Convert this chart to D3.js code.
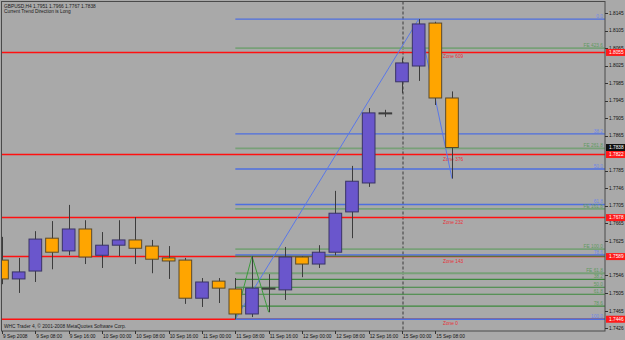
<!DOCTYPE html>
<html><head><meta charset="utf-8">
<script src="https://cdn.jsdelivr.net/npm/d3@7"></script>
<style>
body{margin:0;background:#a9a9a9;}
svg{display:block;}
text{font-family:"Liberation Sans",Arial,sans-serif;}
</style>
</head><body>
<svg id="chart" width="625" height="340"></svg>
<script>
// ---------- data ----------
const headerText = "GBPUSD,H4  1.7951 1.7966 1.7767 1.7838";
const trendText = "Current Trend Direction is Long";
const copyrightText = "WHC Trader 4, \u00A9 2001-2008 MetaQuotes Software Corp.";

const barIndex = [0,1,2,3,4,5,6,7,8,9,10,11,12,13,14,15,16,17,18,19,20,21,22,23,24,25,26,27];
const opens  = [1.7581,1.7538,1.7556,1.7631,1.7602,1.7652,1.7592,1.7615,1.7627,1.7613,1.7586,1.7581,1.7494,1.7533,1.7515,1.7458,1.7517,1.7513,1.7588,1.7572,1.7599,1.7691,1.7757,1.7917,1.7988,1.8024,1.8122,1.7951];
const highs  = [1.7634,1.7586,1.7647,1.7670,1.7707,1.7672,1.7645,1.7672,1.7679,1.7627,1.7613,1.7586,1.7540,1.7540,1.7540,1.7590,1.7549,1.7611,1.7590,1.7615,1.7739,1.7796,1.7928,1.7924,1.8042,1.8131,1.8125,1.7966];
const lows   = [1.7526,1.7506,1.7531,1.7560,1.7592,1.7572,1.7563,1.7590,1.7572,1.7551,1.7538,1.7481,1.7474,1.7483,1.7446,1.7451,1.7462,1.7490,1.7542,1.7563,1.7592,1.7631,1.7748,1.7908,1.7962,1.7990,1.7935,1.7767];
const closes = [1.7538,1.7554,1.7629,1.7599,1.7652,1.7588,1.7615,1.7627,1.7608,1.7583,1.7579,1.7494,1.7531,1.7517,1.7458,1.7517,1.7516,1.7588,1.7572,1.7599,1.7688,1.7761,1.7917,1.7916,1.8031,1.8120,1.7951,1.7838];

const timeLabels = ["9 Sep 2008","9 Sep 08:00","9 Sep 16:00","10 Sep 00:00","10 Sep 08:00","10 Sep 16:00","11 Sep 00:00","11 Sep 08:00","11 Sep 16:00","12 Sep 00:00","12 Sep 08:00","12 Sep 16:00","15 Sep 00:00","15 Sep 08:00"];
const timeLabelBars = [0,2,4,6,8,10,12,14,16,18,20,22,24,26];
const separatorBar = 24;

// visible price scale labels (those hidden under the marker boxes are omitted)
const priceTicks = [1.8145,1.8105,1.8065,1.8025,1.7985,1.7945,1.7905,1.7865,1.7785,1.7746,1.7705,1.7665,1.7625,1.7546,1.7505,1.7465,1.7426];

const zonePrices = [1.8055,1.7822,1.7678,1.7589,1.7446];
const zoneLabels = ["Zone 609","Zone 376","Zone 232","Zone 143","Zone 0"];

const fibBlueNames  = ["0.0","38.2","50.0","61.8","78.6","100.0"];
const fibBluePrices = [1.8131,1.7869,1.7789,1.7708,1.7593,1.7446];

const feNames  = ["FE 423.6","FE 261.8","FE 161.8","FE 100.0","FE 61.8"];
const fePrices = [1.8065,1.7836,1.7698,1.7606,1.7551];

const fibGreenNames  = ["0.0","38.2","50.0","61.8","78.6","100.0"];
const fibGreenPrices = [1.7590,1.7537,1.7519,1.7503,1.7476,1.7446];

const fibStartBar = 14;
const trendUp   = [[14,1.7446],[25,1.8131]];
const trendDown = [[25,1.8131],[27,1.7767]];
const expansionPts = [[14,1.7446],[15,1.7590],[16,1.7462]];

const lastPrice = 1.7838;

(function(){
const W = 625, H = 340;
const pL = 1.5, pR = 605, pT = 1.5, pB = 331;
const svg = d3.select("#chart");
const x = d3.scaleLinear().domain([0,36]).range([2,602]);
const y = d3.scaleLinear().domain([1.7426,1.8145]).range([328,13]);
const fs = 4.8;

svg.append("rect").attr("width",W).attr("height",H).attr("fill","#a9a9a9");

svg.append("clipPath").attr("id","pc").append("rect")
  .attr("x",pL).attr("y",pT).attr("width",pR-pL).attr("height",pB-pT);
const plot = svg.append("g").attr("clip-path","url(#pc)");

plot.append("line").attr("x1",x(separatorBar)+1).attr("x2",x(separatorBar)+1)
  .attr("y1",pT).attr("y2",pB).attr("stroke","#3a3a3a").attr("stroke-width",1)
  .attr("stroke-dasharray","3,2");

plot.selectAll(".zone").data(zonePrices).join("line")
  .attr("x1",pL).attr("x2",pR).attr("y1",d=>y(d)).attr("y2",d=>y(d))
  .attr("stroke","#ff1010").attr("stroke-width",1.5);

const fibX0 = x(fibStartBar);
plot.selectAll(".gr").data(fibGreenPrices).join("line")
  .attr("x1",fibX0).attr("x2",pR).attr("y1",d=>y(d)).attr("y2",d=>y(d))
  .attr("stroke","#3d8a3d").attr("stroke-width",1.2);
plot.selectAll(".fe").data(fePrices).join("line")
  .attr("x1",fibX0).attr("x2",pR).attr("y1",d=>y(d)).attr("y2",d=>y(d))
  .attr("stroke","#78a078").attr("stroke-width",1.8);
plot.selectAll(".fb").data(fibBluePrices).join("line")
  .attr("x1",fibX0).attr("x2",pR).attr("y1",d=>y(d)).attr("y2",d=>y(d))
  .attr("stroke","#4e6fe0").attr("stroke-width",1.4);

plot.selectAll(".fbl").data(fibBluePrices).join("text")
  .attr("x",603).attr("y",d=>y(d)-1.2).attr("text-anchor","end")
  .attr("font-size",fs).attr("fill","#6f86e8").text((d,i)=>fibBlueNames[i]);
plot.selectAll(".fel").data(fePrices).join("text")
  .attr("x",603).attr("y",d=>y(d)-1.2).attr("text-anchor","end")
  .attr("font-size",fs).attr("fill","#5f9a5f").text((d,i)=>feNames[i]);
plot.selectAll(".grl").data(fibGreenPrices.slice(1,5)).join("text")
  .attr("x",603).attr("y",d=>y(d)-1.2).attr("text-anchor","end")
  .attr("font-size",fs).attr("fill","#5f9a5f").text((d,i)=>fibGreenNames[i+1]);
plot.selectAll(".zl").data(zonePrices).join("text")
  .attr("x",443).attr("y",d=>y(d)+6).attr("font-size",fs).attr("fill","#e8303a")
  .text((d,i)=>zoneLabels[i]);

const ln = d3.line().x(d=>x(d[0])).y(d=>y(d[1]));
plot.append("path").attr("d",ln(trendUp)).attr("fill","none").attr("stroke","#5a78e8").attr("stroke-width",1);
plot.append("path").attr("d",ln(trendDown)).attr("fill","none").attr("stroke","#5a78e8").attr("stroke-width",1);
plot.append("path").attr("d",ln(expansionPts)).attr("fill","none").attr("stroke","#3d9a3d").attr("stroke-width",1);

const bw = (x(1)-x(0))*0.76;
const bars = barIndex.map((k,i)=>({k,o:opens[i],h:highs[i],l:lows[i],c:closes[i]}));
const cg = plot.append("g");
cg.selectAll(".wick").data(bars).join("line")
  .attr("x1",d=>Math.round(x(d.k))+0.5).attr("x2",d=>Math.round(x(d.k))+0.5)
  .attr("y1",d=>y(d.h)).attr("y2",d=>y(d.l))
  .attr("stroke","#3c3c3c").attr("stroke-width",1);
cg.selectAll(".body").data(bars).join("rect")
  .attr("x",d=>x(d.k)-bw/2).attr("width",bw)
  .attr("y",d=>y(Math.max(d.o,d.c)))
  .attr("height",d=>Math.max(1,Math.abs(y(d.o)-y(d.c))))
  .attr("fill",d=>d.c>d.o?"#6a56cc":(Math.abs(d.c-d.o)<0.00015?"#3c3c3c":"#ffa500"))
  .attr("stroke",d=>d.c>d.o?"#3a3466":(Math.abs(d.c-d.o)<0.00015?"#3c3c3c":"#5a4a2a")).attr("stroke-width",1);

svg.append("rect").attr("x",pL).attr("y",pT).attr("width",pR-pL).attr("height",pB-pT)
  .attr("fill","none").attr("stroke","#4a4a4a").attr("stroke-width",1);

svg.append("text").attr("x",4).attr("y",8).attr("font-size",fs).attr("fill","#1a1a1a").text(headerText);
svg.append("text").attr("x",4).attr("y",13).attr("font-size",fs).attr("fill","#1a1a1a").text(trendText);
svg.append("text").attr("x",4).attr("y",327.5).attr("font-size",fs).attr("fill","#1a1a1a").text(copyrightText);

const ax = svg.append("g");
ax.selectAll(".pt").data(priceTicks).join("line")
  .attr("x1",pR).attr("x2",pR+3).attr("y1",d=>Math.round(y(d))+0.5).attr("y2",d=>Math.round(y(d))+0.5)
  .attr("stroke","#333");
ax.selectAll(".ptl").data(priceTicks).join("text")
  .attr("x",609).attr("y",d=>y(d)+1.7).attr("font-size",fs).attr("fill","#111")
  .text(d=>d.toFixed(4));

const boxes = zonePrices.map(p=>({p,fill:"#ff1a1a"})).concat([{p:lastPrice,fill:"#101010"}]);
const bg = ax.selectAll(".bx").data(boxes).join("g");
bg.append("rect").attr("x",606).attr("width",19).attr("y",d=>y(d.p)-3.5).attr("height",7).attr("fill",d=>d.fill);
bg.append("text").attr("x",609).attr("y",d=>y(d.p)+1.7).attr("font-size",fs).attr("fill","#fff").text(d=>d.p.toFixed(4));

const tx = svg.append("g");
tx.selectAll(".tt").data(timeLabelBars).join("line")
  .attr("x1",d=>Math.round(x(d))+0.5).attr("x2",d=>Math.round(x(d))+0.5)
  .attr("y1",pB).attr("y2",pB+3).attr("stroke","#333");
tx.selectAll(".ttl").data(timeLabelBars).join("text")
  .attr("x",d=>x(d)+1).attr("y",337.5).attr("font-size",fs).attr("fill","#111")
  .text((d,i)=>timeLabels[i]);
})();
</script>
</body></html>
